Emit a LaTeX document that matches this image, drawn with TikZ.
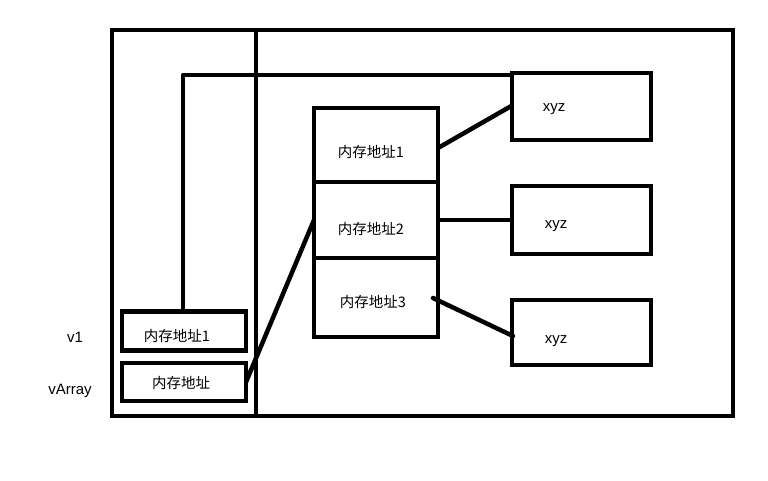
\documentclass[tikz,border=0pt]{standalone}
\usepackage{fontspec}
\setmainfont{Liberation Sans}
\newfontfamily\cjk{Noto Sans CJK SC}
\begin{document}
\begin{tikzpicture}[x=1pt,y=-1pt,
  box/.style={draw,line width=4.5pt,inner sep=0pt,outer sep=0pt},
  conn/.style={line width=4.5pt},
  lbl/.style={font=\cjk\fontsize{14.5}{16}\selectfont},
  side/.style={font=\fontsize{15}{17}\selectfont}]
\useasboundingbox (0,0) rectangle (768,480);
% outer frame
\draw[box] (112,30) rectangle (733,416);
\coordinate (dtop) at (256,30);
\coordinate (dbot) at (256,416);
\draw[conn] (dtop) -- (dbot);
% left boxes
\node[box,minimum width=124pt,minimum height=39pt] (v1) at (184,331) {};
\node[lbl] (v1t) at (177,336) {内存地址1};
\node[box,minimum width=124pt,minimum height=38pt] (va) at (184,382) {};
\node[lbl] (vat) at (181,383) {内存地址};
\node[side] (v1l) at (75,337) {v1};
\node[side] (val) at (70,391) {vArray};
% middle stack
\node[box,minimum width=124pt,minimum height=74pt] (m1) at (376,145) {};
\node[box,minimum width=124pt,minimum height=76pt] (m2) at (376,220) {};
\node[box,minimum width=124pt,minimum height=79pt] (m3) at (376,297.5) {};
\node[lbl] (m1t) at (371,152) {内存地址1};
\node[lbl] (m2t) at (371,229) {内存地址2};
\node[lbl] (m3t) at (373,302) {内存地址3};
% right boxes
\node[box,minimum width=139pt,minimum height=67pt] (x1) at (581.5,106.5) {};
\node[box,minimum width=139pt,minimum height=68pt] (x2) at (581.5,220) {};
\node[box,minimum width=139pt,minimum height=65pt] (x3) at (581.5,332.5) {};
\node[side] (x1t) at (554,109) {xyz};
\node[side] (x2t) at (556,226) {xyz};
\node[side] (x3t) at (556,341) {xyz};
% connectors
\coordinate (corner) at (183,75);
\draw[conn,line join=round] (v1.north -| corner) -- (corner) -- (corner -| x1.west);
\draw[conn] (va.east) -- (m2.west);
\draw[conn] (438,148) -- (513,105);
\draw[conn] (m2.east) -- (x2.west);
\draw[conn,line cap=round] (433,298) -- (513,336);
\end{tikzpicture}
\end{document}
